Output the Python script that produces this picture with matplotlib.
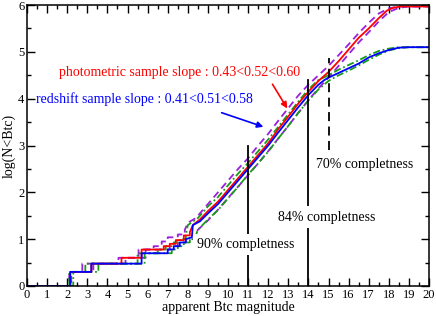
import matplotlib
matplotlib.use('Agg')
import matplotlib.pyplot as plt
from matplotlib.ticker import MultipleLocator

plt.rcParams['font.family'] = ['Liberation Serif', 'DejaVu Serif']
plt.rcParams['mathtext.default'] = 'regular'

# photometric sample (red) and its bounds (violet dashed)
phot_x = [0, 2.15, 2.15, 3.2, 3.2, 4.7, 4.7, 5.7, 5.7, 6.8, 6.8, 7.1, 7.1, 7.4, 7.4,
          7.8, 7.8, 8.1, 8.1, 8.25, 8.6, 9, 9.5, 10, 10.5, 11, 11.5, 12, 12.5, 13,
          13.5, 14, 14.5, 15, 15.5, 16, 16.5, 17, 17.5, 17.9, 18.2, 18.6, 19, 20]
phot_y = [0, 0, .301, .301, .477, .477, .602, .602, .778, .778, .85, .85, .9, .9, .98,
          .98, 1.08, 1.08, 1.15, 1.3, 1.42, 1.6, 1.8, 2.05, 2.3, 2.55, 2.8, 3.05, 3.35, 3.62,
          3.9, 4.15, 4.38, 4.57, 4.8, 5.05, 5.3, 5.5, 5.72, 5.88, 5.94, 5.97, 5.97, 5.97]

phot_hi_x = [0, 2.1, 2.1, 2.75, 2.75, 4.55, 4.55, 5.55, 5.55, 6.3, 6.3, 6.7, 6.7, 7.0, 7.0,
             7.5, 7.5, 7.85, 7.85, 8.0, 8.4, 9, 9.5, 10, 10.5, 11, 11.5, 12, 12.5, 13,
             13.5, 14, 14.5, 15, 15.5, 16, 16.5, 17, 17.5, 18, 18.5, 20]
phot_hi_y = [0, 0, .301, .301, .477, .477, .602, .602, .778, .778, .85, .85, .95, .95, 1.04,
             1.04, 1.1, 1.1, 1.2, 1.35, 1.45, 1.75, 2.0, 2.25, 2.5, 2.73, 3.0, 3.25, 3.53, 3.8,
             4.07, 4.3, 4.5, 4.7, 4.93, 5.16, 5.4, 5.62, 5.82, 5.93, 5.97, 5.97]

phot_lo_x = [0, 2.2, 2.2, 3.3, 3.3, 4.9, 4.9, 5.9, 5.9, 7.1, 7.1, 7.5, 7.5, 7.9, 7.9,
             8.3, 8.3, 8.5, 9, 9.5, 10, 10.5, 11, 11.5, 12, 12.5, 13, 13.5, 14, 14.5,
             15, 15.5, 16, 16.5, 17, 17.5, 18, 18.5, 19, 20]
phot_lo_y = [0, 0, .301, .301, .477, .477, .602, .602, .778, .778, .85, .85, .93, .93, 1.0,
             1.0, 1.08, 1.2, 1.4, 1.63, 1.88, 2.12, 2.37, 2.62, 2.88, 3.15, 3.42, 3.7, 3.97, 4.22,
             4.45, 4.7, 4.95, 5.2, 5.42, 5.65, 5.85, 5.94, 5.97, 5.97]

# redshift sample (blue) and its bounds (green dash-dot)
red_x = [0, 2.15, 2.15, 3.2, 3.2, 5.7, 5.7, 7.0, 7.0, 7.3, 7.3, 7.6, 7.6, 7.9, 7.9,
         8.2, 8.25, 8.6, 9, 9.5, 10, 10.5, 11, 11.5, 12, 12.5, 13, 13.5, 14, 14.5,
         14.8, 15, 15.5, 16, 16.5, 17, 17.5, 18, 18.5, 19, 20]
red_y = [0, 0, .301, .301, .477, .477, .699, .699, .78, .78, .85, .85, .93, .93, 1.0,
         1.04, 1.3, 1.38, 1.55, 1.75, 2.0, 2.25, 2.5, 2.75, 3.0, 3.28, 3.55, 3.82, 4.08, 4.3,
         4.4, 4.45, 4.55, 4.65, 4.75, 4.88, 4.97, 5.04, 5.09, 5.1, 5.1]

red_hi_x = [0, 2.1, 2.1, 2.9, 2.9, 5.5, 5.5, 6.5, 6.5, 6.9, 6.9, 7.3, 7.3, 7.6, 7.6,
            7.9, 7.9, 8.0, 8.5, 9, 9.5, 10, 10.5, 11, 11.5, 12, 12.5, 13, 13.5, 14,
            14.5, 15, 15.5, 16, 16.5, 17, 17.5, 18, 18.5, 20]
red_hi_y = [0, 0, .301, .301, .477, .477, .699, .699, .78, .78, .85, .85, .93, .93, 1.0,
            1.0, 1.08, 1.3, 1.45, 1.7, 1.9, 2.15, 2.4, 2.63, 2.88, 3.13, 3.4, 3.67, 3.94, 4.2,
            4.4, 4.5, 4.62, 4.72, 4.82, 4.93, 5.02, 5.07, 5.1, 5.1]

red_lo_x = [0, 2.3, 2.3, 3.55, 3.55, 5.85, 5.85, 7.2, 7.2, 7.5, 7.5, 7.8, 7.8, 8.1, 8.1,
            8.4, 8.4, 8.5, 9, 9.5, 10, 10.5, 11, 11.5, 12, 12.5, 13, 13.5, 14, 14.5,
            15, 15.5, 16, 16.5, 17, 17.5, 18, 18.5, 19, 20]
red_lo_y = [0, 0, .301, .301, .477, .477, .699, .699, .78, .78, .85, .85, .93, .93, 1.0,
            1.0, 1.08, 1.2, 1.42, 1.62, 1.87, 2.12, 2.38, 2.62, 2.87, 3.15, 3.42, 3.7, 3.96, 4.2,
            4.38, 4.5, 4.6, 4.71, 4.83, 4.94, 5.03, 5.08, 5.1, 5.1]

VIOLET = '#9b1fe0'
GREEN = '#1a9a1a'

fig = plt.figure(figsize=(4.36, 3.16), dpi=100)
ax = fig.add_axes([0.062, 0.095, 0.922, 0.889])

ax.plot(phot_hi_x, phot_hi_y, color=VIOLET, ls=(0, (4, 2.5)), lw=1.3)
ax.plot(phot_lo_x, phot_lo_y, color=VIOLET, ls=(0, (4, 2.5)), lw=1.3)
ax.plot(red_hi_x, red_hi_y, color=GREEN, ls=(0, (4, 1.5, 1, 1.5)), lw=1.3)
ax.plot(red_lo_x, red_lo_y, color=GREEN, ls=(0, (4, 1.5, 1, 1.5)), lw=1.3)
ax.plot(phot_x, phot_y, color='red', lw=1.3)
ax.plot(red_x, red_y, color='blue', lw=1.3)

# completeness markers
ax.plot([11, 11], [0, 3.0], color='black', lw=1.3)
ax.plot([14, 14], [0, 4.4], color='black', lw=1.3)
ax.plot([15, 15], [2.9, 4.87], color='black', lw=1.3, ls=(0, (5, 3)))

box = dict(facecolor='white', edgecolor='none', pad=3)
ax.text(10.9, 0.88, '90% completness', ha='center', va='center', fontsize=10, bbox=box)
ax.text(14.9, 1.47, '84% completness', ha='center', va='center', fontsize=10, bbox=box)
ax.text(16.8, 2.59, '70% completness', ha='center', va='center', fontsize=10, bbox=box)

ax.text(7.6, 4.55, 'photometric sample slope : 0.43<0.52<0.60', color='red',
        ha='center', va='center', fontsize=10)
ax.text(5.85, 4.0, 'redshift sample slope : 0.41<0.51<0.58', color='blue',
        ha='center', va='center', fontsize=10)
ax.annotate('', xy=(13.02, 3.74), xytext=(12.14, 4.36),
            arrowprops=dict(arrowstyle='-|>', color='red', lw=1.2, mutation_scale=9))
ax.annotate('', xy=(11.89, 3.38), xytext=(9.55, 3.72),
            arrowprops=dict(arrowstyle='-|>', color='blue', lw=1.2, mutation_scale=9))

ax.set_xlim(0, 20)
ax.set_ylim(0, 6)
ax.xaxis.set_major_locator(MultipleLocator(1))
ax.xaxis.set_minor_locator(MultipleLocator(0.5))
ax.yaxis.set_major_locator(MultipleLocator(1))
ax.yaxis.set_minor_locator(MultipleLocator(0.5))
ax.tick_params(which='both', direction='in', top=True, right=True, width=1.0, labelsize=9, pad=2)
ax.tick_params(which='major', length=6)
ax.tick_params(which='minor', length=3)
for s in ax.spines.values():
    s.set_linewidth(1.1)

ax.set_xlabel('apparent Btc magnitude', fontsize=10, labelpad=0)
ax.set_ylabel('log(N<Btc)', fontsize=10, labelpad=2)

fig.savefig('out.png', dpi=100)
